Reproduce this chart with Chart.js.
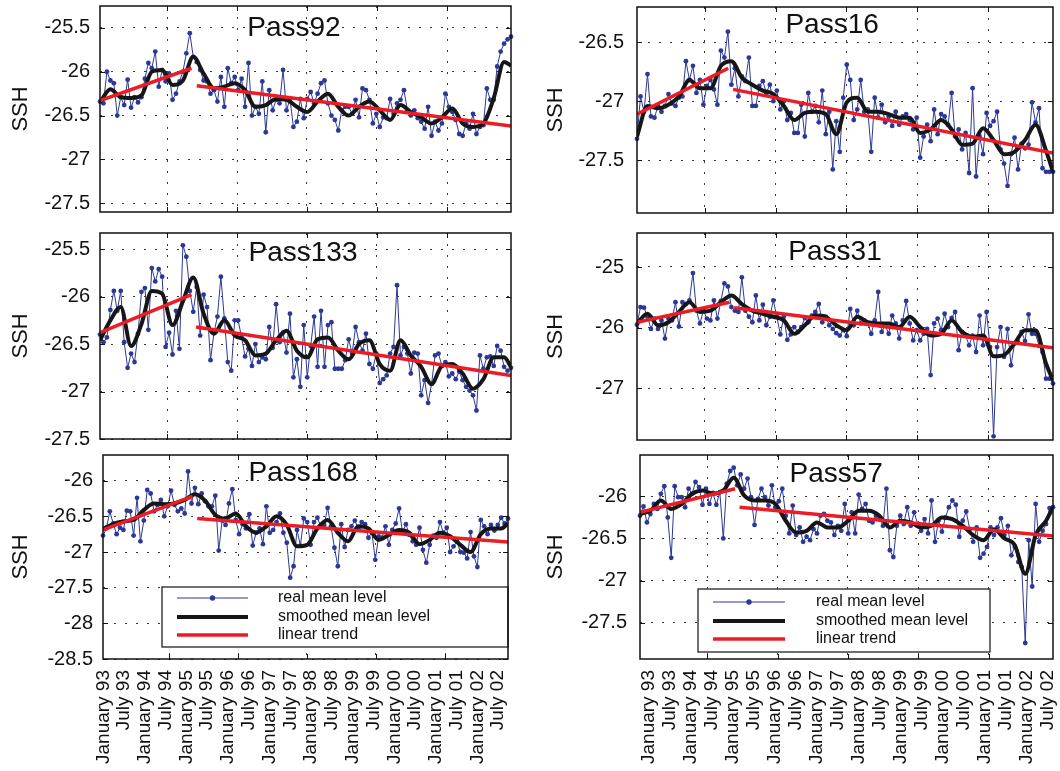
<!DOCTYPE html>
<html>
<head>
<meta charset="utf-8">
<script src="https://cdn.jsdelivr.net/npm/chart.js@4/dist/chart.umd.min.js"></script>
<style>
html, body { margin: 0; padding: 0; background: #fff; }
#wrap { position: relative; width: 1060px; height: 771px; overflow: hidden; }
#wrap canvas { position: absolute; }
</style>
</head>
<body>
<div id="wrap"></div>
<script>
// one mean level per month, month 0 = January 93
const months = Array.from({ length: 120 }, (_, i) => i)
const smoothMonths = [0, 3, 6, 9, 12, 15, 18, 21, 24, 27, 30, 33, 36, 39, 42, 45, 48, 51, 54, 57,
    60, 63, 66, 69, 72, 75, 78, 81, 84, 87, 90, 93, 96, 99, 102, 105, 108, 111, 114, 117, 119]
const gridMonths = [19.4, 39.7, 59.9, 80.2, 100.5]
const dateLabels = ['January 93', 'July 93', 'January 94', 'July 94', 'January 95', 'July 95',
    'January 96', 'July 96', 'January 97', 'July 97', 'January 98', 'July 98', 'January 99',
    'July 99', 'January 00', 'July 00', 'January 01', 'July 01', 'January 02', 'July 02']
const legendLabels = ['real mean level', 'smoothed mean level', 'linear trend']

const pass92Real = [
    -26.34, -26.36, -26.00, -26.10, -26.13, -26.50, -26.29, -26.38, -26.09, -26.41,
    -26.29, -26.35, -26.29, -26.08, -25.90, -25.96, -25.77, -26.17, -25.98, -26.11,
    -26.02, -26.32, -26.25, -26.11, -26.00, -25.79, -25.56, -25.83, -25.89, -25.98,
    -26.10, -26.11, -26.25, -26.21, -26.34, -26.06, -26.40, -25.96, -26.13, -26.06,
    -26.21, -26.08, -26.40, -25.90, -26.50, -26.40, -26.48, -26.11, -26.69, -26.21,
    -26.44, -26.32, -26.36, -25.98, -26.44, -26.31, -26.63, -26.57, -26.31, -26.53,
    -26.31, -26.23, -26.36, -26.25, -26.13, -26.10, -26.36, -26.50, -26.55, -26.67,
    -26.44, -26.40, -26.40, -26.48, -26.32, -26.52, -26.19, -26.21, -26.32, -26.59,
    -26.48, -26.63, -26.52, -26.53, -26.31, -26.48, -26.36, -26.32, -26.21, -26.44,
    -26.50, -26.44, -26.53, -26.57, -26.65, -26.40, -26.73, -26.57, -26.67, -26.59,
    -26.25, -26.40, -26.46, -26.55, -26.71, -26.73, -26.59, -26.65, -26.48, -26.71,
    -26.63, -26.61, -26.19, -26.32, -26.32, -25.94, -25.77, -25.68, -25.63, -25.60]
const pass92Smooth = [-26.35, -26.20, -26.29, -26.30, -26.27, -26.00, -25.98, -26.15, -26.10, -25.83,
    -26.02, -26.19, -26.17, -26.13, -26.21, -26.40, -26.38, -26.31, -26.32, -26.40,
    -26.46, -26.34, -26.25, -26.40, -26.50, -26.40, -26.34, -26.44, -26.55, -26.38,
    -26.46, -26.52, -26.59, -26.52, -26.42, -26.59, -26.63, -26.59, -26.30, -25.89, -25.93]
const pass92TrendX = [0, 26.5, 28, 119]
const pass92TrendY = [-26.33, -25.96, -26.16, -26.62]

const pass133Real = [
    -26.40, -26.48, -26.43, -26.14, -25.94, -26.15, -25.94, -26.48, -26.75, -26.60,
    -26.69, -26.39, -25.95, -25.91, -26.35, -25.70, -25.84, -25.71, -25.79, -26.53,
    -26.38, -26.61, -26.15, -26.55, -25.46, -25.58, -25.94, -26.16, -25.90, -26.41,
    -25.98, -26.11, -26.67, -26.38, -26.21, -25.79, -26.23, -26.69, -26.78, -26.25,
    -26.25, -26.43, -26.63, -26.55, -26.73, -26.50, -26.69, -26.64, -26.66, -26.32,
    -26.54, -26.08, -26.48, -26.38, -26.59, -26.18, -26.85, -26.66, -26.95, -26.30,
    -26.85, -26.52, -26.21, -26.74, -26.15, -26.74, -26.30, -26.27, -26.76, -26.76,
    -26.76, -26.67, -26.45, -26.60, -26.32, -26.48, -26.57, -26.39, -26.71, -26.76,
    -26.60, -26.91, -26.87, -26.83, -26.60, -26.53, -25.88, -26.62, -26.53, -26.60,
    -26.81, -26.59, -26.60, -27.04, -26.88, -27.12, -26.92, -26.62, -26.60, -26.73,
    -26.69, -26.84, -26.81, -26.87, -26.79, -26.88, -26.95, -26.99, -27.04, -27.20,
    -26.62, -26.76, -26.64, -26.63, -26.73, -26.52, -26.57, -26.74, -26.78, -26.75]
const pass133Smooth = [-26.46, -26.25, -26.11, -26.52, -26.29, -25.94, -25.97, -26.30, -26.05, -25.80,
    -26.18, -26.39, -26.25, -26.41, -26.46, -26.62, -26.60, -26.46, -26.36, -26.57,
    -26.64, -26.45, -26.43, -26.57, -26.66, -26.50, -26.46, -26.71, -26.78, -26.46,
    -26.62, -26.74, -26.92, -26.73, -26.71, -26.81, -26.97, -26.87, -26.64, -26.64, -26.74]
const pass133TrendX = [0, 26.5, 27.8, 119]
const pass133TrendY = [-26.38, -25.98, -26.32, -26.83]

const pass168Real = [
    -26.77, -26.67, -26.43, -26.60, -26.75, -26.66, -26.69, -26.42, -26.43, -26.77,
    -26.24, -26.85, -26.56, -26.13, -26.18, -26.43, -26.34, -26.27, -26.50, -26.36,
    -26.14, -26.34, -26.43, -26.39, -26.46, -25.87, -26.32, -26.10, -26.33, -26.18,
    -26.29, -26.36, -26.36, -26.21, -26.98, -26.56, -26.62, -26.32, -26.12, -26.55,
    -26.75, -26.61, -26.67, -26.47, -26.91, -26.73, -26.67, -26.89, -26.36, -26.73,
    -26.69, -26.58, -26.46, -26.73, -26.87, -27.36, -27.20, -26.69, -26.91, -26.53,
    -26.58, -26.90, -26.58, -26.52, -26.64, -26.62, -26.38, -26.64, -26.94, -27.20,
    -26.61, -26.93, -26.69, -26.64, -26.56, -26.67, -26.58, -26.61, -26.80, -26.72,
    -27.11, -26.78, -26.80, -26.64, -26.90, -26.69, -26.60, -26.39, -26.72, -26.61,
    -26.76, -26.85, -26.90, -26.66, -26.97, -27.15, -26.90, -26.77, -26.80, -26.58,
    -26.73, -26.66, -27.00, -26.92, -26.85, -27.00, -27.01, -27.09, -26.72, -27.06,
    -27.21, -26.55, -26.64, -26.75, -26.62, -26.70, -26.62, -26.52, -26.60, -26.53]
const pass168Smooth = [-26.67, -26.61, -26.57, -26.55, -26.41, -26.32, -26.33, -26.32, -26.27, -26.19,
    -26.28, -26.48, -26.53, -26.46, -26.64, -26.73, -26.64, -26.50, -26.62, -26.92,
    -26.90, -26.67, -26.55, -26.73, -26.85, -26.64, -26.67, -26.83, -26.76, -26.69,
    -26.73, -26.89, -26.83, -26.73, -26.78, -26.90, -27.00, -26.75, -26.67, -26.67, -26.60]
const pass168TrendX = [0, 26.3, 27.7, 119]
const pass168TrendY = [-26.69, -26.22, -26.53, -26.86]

const pass16Real = [
    -27.32, -26.96, -27.09, -26.77, -27.13, -27.14, -27.04, -27.09, -27.04, -26.94,
    -27.02, -27.04, -26.97, -26.96, -26.66, -26.82, -26.70, -26.93, -26.82, -27.03,
    -26.87, -26.82, -26.90, -27.03, -26.57, -26.63, -26.41, -26.86, -26.72, -26.96,
    -26.79, -26.83, -26.63, -27.04, -27.04, -26.87, -26.83, -26.93, -26.86, -27.00,
    -26.91, -27.07, -27.00, -27.16, -27.10, -27.27, -27.27, -27.03, -27.30, -26.93,
    -27.09, -27.04, -27.18, -26.91, -27.28, -27.09, -27.58, -27.17, -27.43, -26.97,
    -26.69, -26.82, -27.16, -27.07, -26.82, -27.09, -27.07, -27.43, -26.97, -27.14,
    -27.03, -27.18, -27.13, -27.21, -27.09, -27.20, -27.13, -27.11, -27.16, -27.24,
    -27.14, -27.48, -27.30, -27.20, -27.34, -27.07, -27.28, -27.11, -27.13, -27.20,
    -26.93, -27.30, -27.24, -27.41, -27.27, -27.61, -26.89, -27.64, -27.30, -27.45,
    -27.10, -27.21, -27.17, -27.09, -27.41, -27.53, -27.72, -27.45, -27.31, -27.58,
    -27.36, -27.40, -27.37, -27.01, -27.18, -27.06, -27.57, -27.60, -27.60, -27.60]
const pass16Smooth = [-27.30, -27.04, -27.06, -27.03, -26.96, -26.82, -26.89, -26.89, -26.70, -26.66,
    -26.80, -26.86, -26.91, -26.94, -27.04, -27.16, -27.10, -27.09, -27.11, -27.28,
    -27.01, -26.97, -27.09, -27.09, -27.11, -27.14, -27.14, -27.27, -27.24, -27.16,
    -27.24, -27.37, -27.36, -27.23, -27.33, -27.45, -27.43, -27.33, -27.20, -27.42, -27.60]
const pass16TrendX = [0, 26.1, 27.5, 119]
const pass16TrendY = [-27.11, -26.72, -26.90, -27.44]

const pass31Real = [
    -25.95, -25.66, -25.67, -25.82, -26.02, -25.85, -26.02, -25.88, -26.18, -25.85,
    -25.88, -25.58, -25.98, -25.58, -25.61, -25.55, -25.10, -25.72, -25.93, -25.72,
    -25.85, -25.88, -25.55, -25.85, -25.56, -25.27, -25.32, -25.66, -25.72, -25.74,
    -25.17, -25.72, -25.82, -25.91, -25.47, -25.88, -25.62, -25.96, -25.82, -25.55,
    -25.82, -26.11, -25.82, -26.20, -26.11, -25.99, -26.07, -25.99, -25.84, -25.91,
    -25.80, -25.74, -25.61, -25.91, -25.82, -25.96, -26.02, -26.09, -26.13, -26.04,
    -26.14, -25.69, -25.96, -25.72, -25.93, -25.88, -25.93, -26.10, -25.88, -25.41,
    -26.07, -25.96, -26.10, -25.80, -25.93, -26.18, -25.88, -25.56, -25.93, -26.21,
    -26.04, -26.21, -26.10, -26.02, -26.78, -25.93, -25.85, -26.04, -25.77, -25.99,
    -25.84, -25.74, -26.37, -26.07, -26.13, -26.29, -26.13, -26.40, -25.80, -26.29,
    -25.74, -26.32, -27.79, -26.32, -25.99, -26.48, -26.02, -26.62, -26.26, -26.24,
    -26.07, -26.22, -25.78, -26.10, -26.10, -26.30, -26.40, -26.84, -26.84, -26.92]
const pass31Smooth = [-25.93, -25.77, -25.96, -25.91, -25.74, -25.58, -25.74, -25.72, -25.58, -25.47,
    -25.61, -25.72, -25.77, -25.82, -25.88, -26.10, -25.96, -25.80, -25.82, -25.96,
    -26.04, -25.82, -25.91, -25.93, -25.93, -25.99, -25.82, -25.99, -26.13, -26.10,
    -25.88, -26.07, -26.15, -26.13, -26.47, -26.45, -26.26, -26.04, -26.04, -26.59, -26.87]
const pass31TrendX = [0, 26.5, 27.8, 119]
const pass31TrendY = [-25.91, -25.58, -25.67, -26.33]

const pass57Real = [
    -26.23, -26.12, -26.31, -26.21, -26.09, -26.15, -25.97, -25.88, -26.25, -26.73,
    -25.88, -26.01, -26.01, -26.13, -25.91, -25.97, -25.83, -25.89, -26.10, -25.91,
    -26.09, -25.96, -26.10, -25.95, -26.50, -25.85, -25.70, -25.66, -25.87, -25.74,
    -25.91, -25.79, -26.01, -26.34, -26.03, -25.91, -26.01, -26.11, -25.87, -26.13,
    -26.06, -25.91, -26.23, -26.44, -26.11, -26.46, -26.37, -26.54, -26.48, -26.52,
    -26.39, -26.44, -26.23, -26.21, -26.29, -26.31, -26.46, -26.35, -26.41, -26.09,
    -26.44, -26.19, -26.44, -25.98, -26.15, -26.09, -26.29, -26.31, -26.23, -26.27,
    -26.35, -25.91, -26.64, -26.72, -26.35, -26.23, -26.33, -26.13, -26.35, -26.19,
    -26.33, -26.41, -26.27, -26.44, -26.05, -26.54, -26.29, -26.42, -26.25, -26.13,
    -26.05, -26.10, -26.48, -26.29, -26.18, -26.39, -26.54, -26.37, -26.73, -26.68,
    -26.60, -26.37, -26.46, -26.37, -26.26, -26.46, -26.35, -26.70, -26.60, -26.78,
    -26.84, -27.74, -26.52, -27.07, -26.09, -26.54, -26.41, -26.33, -26.14, -26.13]
const pass57Smooth = [-26.21, -26.17, -26.05, -26.15, -26.09, -25.97, -25.93, -25.97, -25.93, -25.78,
    -25.99, -26.05, -26.05, -26.09, -26.29, -26.43, -26.41, -26.31, -26.37, -26.37,
    -26.29, -26.17, -26.17, -26.23, -26.37, -26.29, -26.31, -26.37, -26.35, -26.25,
    -26.27, -26.35, -26.46, -26.52, -26.39, -26.50, -26.58, -26.92, -26.46, -26.29, -26.13]
const pass57TrendX = [0, 27.4, 28.7, 119]
const pass57TrendY = [-26.19, -25.91, -26.13, -26.47]

const FONT = '"Liberation Sans", Arial, Helvetica, sans-serif'
const BLUE = '#2b3897'
const RED = '#ec1c24'
const INK = '#111'
Chart.defaults.font.family = FONT
Chart.defaults.color = INK

// title, inward ticks, legend box and frame drawn inside each panel
const panelDeco = {
    id: 'panelDeco',
    afterDatasetsDraw(chart, args, opts) {
        const { ctx, chartArea: a, scales } = chart
        const w = a.right - a.left
        ctx.save()
        ctx.font = '28px ' + FONT
        ctx.fillStyle = INK
        ctx.textAlign = 'center'
        ctx.textBaseline = 'middle'
        ctx.fillText(opts.title, a.left + opts.titleX * w, a.top + opts.titleY)

        ctx.strokeStyle = INK
        ctx.lineWidth = 1
        ctx.beginPath()
        scales.x.ticks.forEach(t => {
            const px = Math.round(scales.x.getPixelForValue(t.value)) + 0.5
            ctx.moveTo(px, a.bottom); ctx.lineTo(px, a.bottom - 5)
            ctx.moveTo(px, a.top); ctx.lineTo(px, a.top + 5)
        })
        scales.y.ticks.forEach(t => {
            const py = Math.round(scales.y.getPixelForValue(t.value)) + 0.5
            ctx.moveTo(a.left, py); ctx.lineTo(a.left + 5, py)
            ctx.moveTo(a.right, py); ctx.lineTo(a.right - 5, py)
        })
        ctx.stroke()

        const lg = opts.legend
        if (lg) {
            const bx = a.left + lg.x, by = a.top + lg.y
            ctx.fillStyle = '#fff'
            ctx.fillRect(bx, by, lg.w, lg.h)
            ctx.strokeStyle = '#222'
            ctx.lineWidth = 1.3
            ctx.strokeRect(bx, by, lg.w, lg.h)
            ctx.font = '16px ' + FONT
            ctx.textAlign = 'left'
            legendLabels.forEach((label, i) => {
                const ds = chart.data.datasets.find(d => d.label === label)
                const y = by + lg.rows[i]
                ctx.strokeStyle = ds.borderColor
                ctx.lineWidth = ds.borderWidth
                ctx.beginPath()
                ctx.moveTo(bx + lg.sample[0], y)
                ctx.lineTo(bx + lg.sample[1], y)
                ctx.stroke()
                if (ds.pointRadius) {
                    ctx.fillStyle = ds.pointBackgroundColor
                    ctx.beginPath()
                    ctx.arc(bx + (lg.sample[0] + lg.sample[1]) / 2, y, ds.pointRadius + 0.3, 0, Math.PI * 2)
                    ctx.fill()
                }
                ctx.fillStyle = INK
                ctx.fillText(label, bx + lg.textX, y)
            })
        }

        ctx.strokeStyle = INK
        ctx.lineWidth = 1.5
        ctx.strokeRect(a.left, a.top, w, a.bottom - a.top)
        ctx.restore()
    }
}

function xy(xs, ys) {
    return ys.map((v, i) => ({ x: xs[i], y: v }))
}

function makePanel(p) {
    const wrap = document.getElementById('wrap')
    const canvas = document.createElement('canvas')
    const padTop = Math.min(12, p.area.top)
    const padBottom = p.bottomRow ? 0 : 12
    const top = p.area.top - padTop
    const height = p.bottomRow ? 771 - top : p.area.bottom + padBottom - top
    const width = p.area.right + 4 - p.colLeft
    canvas.width = width
    canvas.height = height
    canvas.style.left = p.colLeft + 'px'
    canvas.style.top = top + 'px'
    canvas.style.width = width + 'px'
    canvas.style.height = height + 'px'
    wrap.appendChild(canvas)

    const gridStyle = { color: '#3a3a3a', lineWidth: 1, drawTicks: false }
    const borderStyle = { display: false, dash: [2, 9] }

    const scales = {
        x: {
            type: 'linear', position: 'bottom', weight: 0, min: 0, max: 119,
            afterBuildTicks: s => { s.ticks = gridMonths.map(v => ({ value: v })) },
            afterFit: s => { s.height = 0; s.paddingLeft = 0; s.paddingRight = 0 },
            ticks: { display: false },
            grid: gridStyle, border: borderStyle
        },
        y: {
            type: 'linear', min: p.yMin, max: p.yMax,
            afterBuildTicks: s => { s.ticks = p.yTicks.map(v => ({ value: v })) },
            afterFit: s => { s.width = p.area.left - p.colLeft; s.paddingTop = 0; s.paddingBottom = 0 },
            ticks: { font: { size: 20 }, color: INK, padding: p.tickPad, callback: v => String(v) },
            grid: gridStyle, border: borderStyle,
            title: { display: true, text: 'SSH', font: { size: 22 }, color: INK, padding: { top: p.sshPad, bottom: 0 } }
        }
    }
    if (p.bottomRow) {
        scales.xl = {
            type: 'linear', position: 'bottom', weight: 1, min: p.labelMin, max: p.labelMax,
            afterBuildTicks: s => { s.ticks = dateLabels.map((_, i) => ({ value: i })) },
            afterFit: s => { s.height = 771 - p.area.bottom; s.paddingLeft = 0; s.paddingRight = 0 },
            ticks: {
                autoSkip: false, minRotation: 90, maxRotation: 90, padding: 11,
                font: { size: 19 }, color: INK,
                callback: v => dateLabels[Math.round(v)]
            },
            grid: { display: false, drawTicks: false }, border: { display: false }
        }
    }

    return new Chart(canvas, {
        type: 'line',
        data: {
            datasets: [
                {
                    label: 'linear trend', data: xy(p.trendX.slice(0, 2), p.trendY.slice(0, 2)),
                    borderColor: RED, borderWidth: 3.5, pointRadius: 0, tension: 0, xAxisID: 'x', yAxisID: 'y'
                },
                {
                    label: 'linear trend b', data: xy(p.trendX.slice(2), p.trendY.slice(2)),
                    borderColor: RED, borderWidth: 3.5, pointRadius: 0, tension: 0, xAxisID: 'x', yAxisID: 'y'
                },
                {
                    label: 'smoothed mean level', data: xy(smoothMonths, p.smooth),
                    borderColor: '#161616', borderWidth: 4, pointRadius: 0,
                    cubicInterpolationMode: 'monotone',
                    borderJoinStyle: 'round', xAxisID: 'x', yAxisID: 'y'
                },
                {
                    label: 'real mean level', data: xy(months, p.real),
                    borderColor: BLUE, borderWidth: 1, pointRadius: 2.4, pointBorderWidth: 0,
                    pointBackgroundColor: BLUE, tension: 0, clip: false, xAxisID: 'x', yAxisID: 'y'
                }
            ]
        },
        options: {
            responsive: false,
            animation: false,
            devicePixelRatio: 1,
            layout: { padding: { top: padTop, right: 4, bottom: padBottom, left: 0 } },
            scales: scales,
            plugins: {
                legend: { display: false },
                tooltip: { enabled: false },
                panelDeco: { title: p.title, titleX: p.titleX, titleY: p.titleY, legend: p.legend }
            }
        },
        plugins: [panelDeco]
    })
}

const leftCol = { colLeft: 0, tickPad: 10, sshPad: 8 }
const rightCol = { colLeft: 530, tickPad: 13, sshPad: 13 }

const panels = [
    Object.assign({}, leftCol, {
        title: 'Pass92', titleX: 0.472, titleY: 22,
        area: { left: 100, right: 511, top: 6, bottom: 212 },
        yMin: -27.6, yMax: -25.25, yTicks: [-27.5, -27, -26.5, -26, -25.5],
        real: pass92Real, smooth: pass92Smooth, trendX: pass92TrendX, trendY: pass92TrendY
    }),
    Object.assign({}, leftCol, {
        title: 'Pass133', titleX: 0.494, titleY: 20,
        area: { left: 100, right: 511, top: 233, bottom: 439 },
        yMin: -27.5, yMax: -25.33, yTicks: [-27.5, -27, -26.5, -26, -25.5],
        real: pass133Real, smooth: pass133Smooth, trendX: pass133TrendX, trendY: pass133TrendY
    }),
    Object.assign({}, leftCol, {
        title: 'Pass168', titleX: 0.494, titleY: 18,
        area: { left: 103, right: 508, top: 455, bottom: 659 },
        yMin: -28.5, yMax: -25.64, yTicks: [-28.5, -28, -27.5, -27, -26.5, -26],
        real: pass168Real, smooth: pass168Smooth, trendX: pass168TrendX, trendY: pass168TrendY,
        bottomRow: true, labelMin: -0.014, labelMax: 19.47,
        legend: { x: 59, y: 132, w: 346, h: 60, sample: [15, 86], textX: 116, rows: [11, 30, 48] }
    }),
    Object.assign({}, rightCol, {
        title: 'Pass16', titleX: 0.469, titleY: 18,
        area: { left: 637, right: 1053, top: 7, bottom: 213 },
        yMin: -27.95, yMax: -26.2, yTicks: [-27.5, -27, -26.5],
        real: pass16Real, smooth: pass16Smooth, trendX: pass16TrendX, trendY: pass16TrendY
    }),
    Object.assign({}, rightCol, {
        title: 'Pass31', titleX: 0.476, titleY: 19,
        area: { left: 637, right: 1053, top: 233, bottom: 440 },
        yMin: -27.85, yMax: -24.44, yTicks: [-27, -26, -25],
        real: pass31Real, smooth: pass31Smooth, trendX: pass31TrendX, trendY: pass31TrendY
    }),
    Object.assign({}, rightCol, {
        title: 'Pass57', titleX: 0.475, titleY: 19,
        area: { left: 640, right: 1053, top: 455, bottom: 659 },
        yMin: -27.93, yMax: -25.51, yTicks: [-27.5, -27, -26.5, -26],
        real: pass57Real, smooth: pass57Smooth, trendX: pass57TrendX, trendY: pass57TrendY,
        bottomRow: true, labelMin: -0.395, labelMax: 19.25,
        legend: { x: 58, y: 134, w: 292, h: 63, sample: [15, 87], textX: 118, rows: [13, 32, 50] }
    })
]

panels.forEach(makePanel)
</script>
</body>
</html>
